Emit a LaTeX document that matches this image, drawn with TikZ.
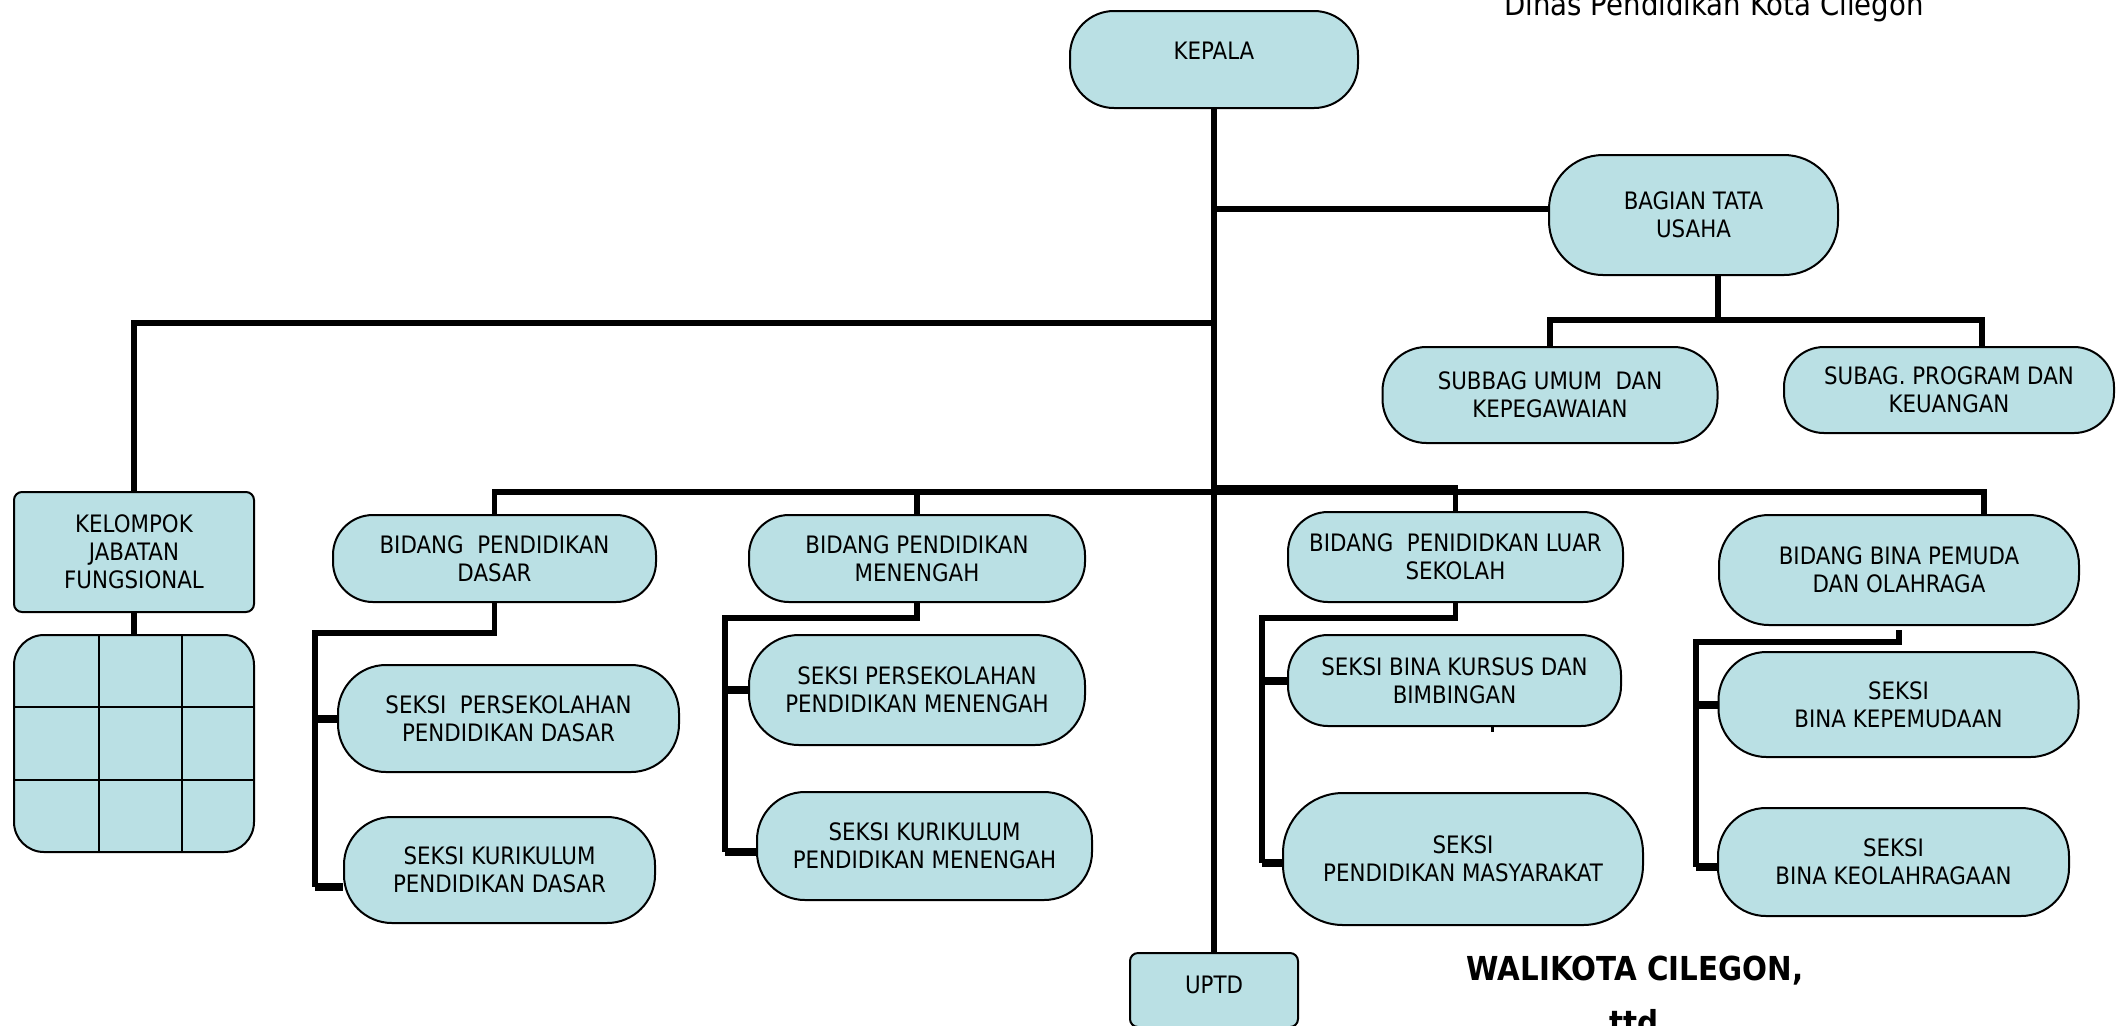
\documentclass[tikz,border=0pt]{standalone}
\usepackage{fontspec}
\setmainfont{DejaVu Sans}[FakeStretch=0.89]
\usepackage{xcolor}
\usepackage{tikz}
\usetikzlibrary{positioning,backgrounds}
\definecolor{boxfill}{RGB}{186,224,228}

\begin{document}
\begin{tikzpicture}[x=0.5pt,y=-0.5pt,
  unit/.style={draw,line width=1pt,fill=boxfill,rounded corners=#1,align=center,inner sep=1pt,font=\fontsize{12}{14}\selectfont},
  unit/.default=20pt,
  plain/.style={unit=4pt},
  conn/.style={line width=2.75pt},
  stub/.style={line width=4pt},
  cell/.style={line width=1pt}]
\useasboundingbox (0,0) rectangle (2116,1025);

\node[anchor=base,font=\fontsize{15.5}{18}\selectfont] (judul) at (1714,15) {Dinas Pendidikan Kota Cilegon};

\node[unit=22pt,minimum width=144pt,minimum height=48.5pt,text depth=8.5pt] (kepala) at (1214,59.5) {KEPALA};
\node[unit=27pt,minimum width=144.5pt,minimum height=60pt] (bagian) at (1693.5,215) {BAGIAN TATA\\USAHA};
\node[unit=22pt,minimum width=167.5pt,minimum height=48pt] (umum) at (1550,395) {SUBBAG UMUM~ DAN\\KEPEGAWAIAN};
\node[unit,minimum width=165pt,minimum height=43pt] (prog) at (1949,390) {SUBAG. PROGRAM DAN\\KEUANGAN};

\node[plain,minimum width=120pt,minimum height=60pt] (kelompok) at (134,552) {KELOMPOK\\JABATAN\\FUNGSIONAL};
\node[unit=15pt,minimum width=120pt,minimum height=108.5pt] (grid) at (134,743.5) {};
\foreach \gx in {99,182} \draw[cell] (\gx,635) -- (\gx,852);
\foreach \gy in {707,780} \draw[cell] (14,\gy) -- (254,\gy);

\node[unit,minimum width=161.5pt,minimum height=43.5pt] (dasar) at (494.5,558.5) {BIDANG~ PENDIDIKAN\\DASAR};
\node[unit=24pt,minimum width=170.5pt,minimum height=53.5pt] (persdas) at (508.5,718.5) {SEKSI~ PERSEKOLAHAN\\PENDIDIKAN DASAR};
\node[unit=24pt,minimum width=155.5pt,minimum height=53pt] (kurdas) at (499.5,870) {SEKSI KURIKULUM\\PENDIDIKAN DASAR};

\node[unit,minimum width=168pt,minimum height=43.5pt] (menengah) at (917,558.5) {BIDANG PENDIDIKAN\\MENENGAH};
\node[unit=25pt,minimum width=168pt,minimum height=55pt] (persmen) at (917,690) {SEKSI PERSEKOLAHAN\\PENDIDIKAN MENENGAH};
\node[unit=24pt,minimum width=167.5pt,minimum height=54pt] (kurmen) at (924.5,846) {SEKSI KURIKULUM\\PENDIDIKAN MENENGAH};

\node[unit,minimum width=167.5pt,minimum height=45pt] (luar) at (1455.5,557) {BIDANG~ PENIDIDKAN LUAR\\SEKOLAH};
\node[unit,minimum width=166.5pt,minimum height=45.5pt] (kursus) at (1454.5,680.5) {SEKSI BINA KURSUS DAN\\BIMBINGAN};
\node[unit=30pt,minimum width=180pt,minimum height=66pt] (masy) at (1463,859) {SEKSI\\PENDIDIKAN MASYARAKAT};

\node[unit=25pt,minimum width=180pt,minimum height=55pt] (pemuda) at (1899,570) {BIDANG BINA PEMUDA\\DAN OLAHRAGA};
\node[unit=24pt,minimum width=180pt,minimum height=52.5pt] (kepemudaan) at (1898.5,704.5) {SEKSI\\BINA KEPEMUDAAN};
\node[unit=24pt,minimum width=175.5pt,minimum height=54pt] (olahraga) at (1893.5,862) {SEKSI\\BINA KEOLAHRAGAAN};

\node[plain,minimum width=84pt,minimum height=37pt,text depth=5pt] (uptd) at (1214,990) {UPTD};

\node[anchor=base,font=\bfseries\fontsize{16.5}{20}\selectfont] (walikota) at (1635,980) {WALIKOTA CILEGON,};
\node[anchor=base,font=\bfseries\fontsize{16.5}{20}\selectfont] (ttd) at (1634,1034) {ttd};

\begin{scope}[on background layer]
\coordinate (kj) at (1214,323);
\coordinate (bus) at (1214,492);
\coordinate (t1) at (1718,320);
\coordinate (d1) at (315,633);
\coordinate (m1) at (725,618);
\coordinate (l1) at (1262,618);
\coordinate (p1) at (1696,642);

\draw[conn] (kepala) -- (uptd);
\draw[conn] ([yshift=3pt]bagian.west -| kepala) -- ([yshift=3pt]bagian.west);
\draw[conn] (t1 |- bagian.south) -- (t1);
\draw[conn] (umum.north) |- ([xshift=16.5pt]prog.north |- t1) -- ([xshift=16.5pt]prog.north);
\draw[conn] (kj) -| (kelompok.north);
\draw[conn] (kelompok) -- (grid);

\draw[conn] (dasar.north) |- ([xshift=42.5pt]pemuda.north |- bus) -- ([xshift=42.5pt]pemuda.north);
\draw[conn] (menengah) -- (menengah |- bus);
\draw[conn] ([yshift=2pt]bus) -| (luar.north);

\draw[conn] (dasar.south) |- (d1) -- ([yshift=-8.5pt]kurdas.west -| d1);
\draw[stub] (d1 |- persdas.west) -- (persdas.west);
\draw[stub] ([yshift=-8.5pt]kurdas.west -| d1) -- ([yshift=-8.5pt]kurdas.west);

\draw[conn] (menengah.south) |- (m1) -- ([yshift=-3pt]kurmen.west -| m1);
\draw[stub] (m1 |- persmen.west) -- (persmen.west);
\draw[stub] ([yshift=-3pt]kurmen.west -| m1) -- ([yshift=-3pt]kurmen.west);

\draw[conn] (luar.south) |- (l1) -- ([yshift=-2pt]masy.west -| l1);
\draw[stub] (l1 |- kursus.west) -- (kursus.west);
\draw[stub] ([yshift=-2pt]masy.west -| l1) -- ([yshift=-2pt]masy.west);
\draw[line width=1.5pt] ([xshift=19pt]kursus.south) -- ++(0,5);

\draw[conn] ([yshift=-2pt]pemuda.south) |- (p1) -- ([yshift=-2.5pt]olahraga.west -| p1);
\draw[stub] (p1 |- kepemudaan.west) -- (kepemudaan.west);
\draw[stub] ([yshift=-2.5pt]olahraga.west -| p1) -- ([yshift=-2.5pt]olahraga.west);
\end{scope}
\end{tikzpicture}
\end{document}
